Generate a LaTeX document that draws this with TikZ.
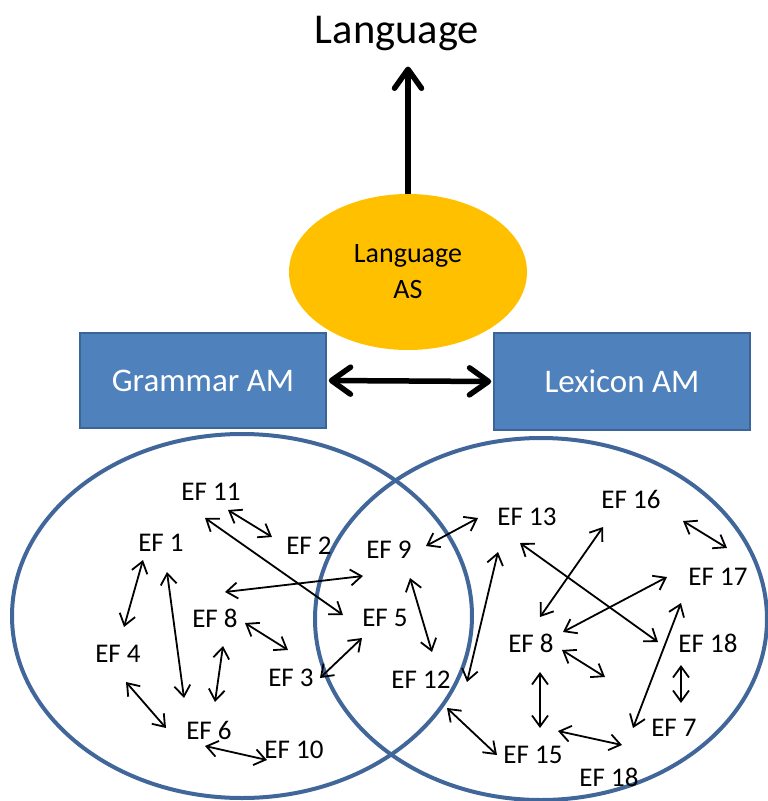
\documentclass[tikz,border=0pt]{standalone}
\usepackage{fontspec}
\setmainfont{Carlito}
\usetikzlibrary{arrows.meta,shapes.geometric}
\definecolor{boxblue}{HTML}{4F81BD}
\definecolor{boxedge}{HTML}{3B6598}
\definecolor{gold}{HTML}{FFC000}
\definecolor{ringblue}{HTML}{41679A}

\begin{document}
\begin{tikzpicture}[x=1pt,y=-1pt,
  ef/.style={font=\fontsize{27}{32}\selectfont, inner sep=0pt},
  link/.style={line width=1.8pt,
    {Straight Barb[length=11pt,width=16pt]}-{Straight Barb[length=11pt,width=16pt]}},
  bigarrow/.style={line width=5.5pt, -{Straight Barb[round,length=19pt,width=27pt]}},
  bigboth/.style={line width=5.5pt,
    {Straight Barb[round,length=19pt,width=27pt]}-{Straight Barb[round,length=19pt,width=27pt]}},
  module/.style={draw=boxedge, line width=1.5pt, fill=boxblue, text=white,
    font=\fontsize{33}{38}\selectfont, inner sep=0pt},
  ring/.style={draw=ringblue, line width=4pt, ellipse, inner sep=0pt}
]
\useasboundingbox (0,0) rectangle (768,801);

% top level
\node[font=\fontsize{42.5}{50}\selectfont, inner sep=0pt, anchor=base] (title) at (397,43) {Language};
\node[ellipse, fill=gold, minimum width=238pt, minimum height=156pt, inner sep=0pt,
      align=center, font=\fontsize{28}{36}\selectfont] (as) at (408,272) {Language\\AS};
\draw[bigarrow, shorten >=16pt] (as.north) -- (as.north |- title.south);

% modules
\node[module, minimum width=246pt, minimum height=95pt] (grammar) at (203,380.5) {Grammar AM};
\node[module, minimum width=256pt, minimum height=97pt] (lexicon) at (622,381.5) {Lexicon AM};
\draw[bigboth, shorten <=2pt, shorten >=2pt] (grammar.east) -- (lexicon.west);

% the two overlapping sets
\node[ring, minimum width=460pt, minimum height=364pt] (gset) at (242,616) {};
\node[ring, minimum width=452pt, minimum height=362pt] (lset) at (541,619) {};

% elements of the grammar set
\node[ef] (ef11) at (211,492) {EF 11};
\node[ef] (ef1)  at (161,543) {EF 1};
\node[ef] (ef2)  at (309,546) {EF 2};
\node[ef] (ef8l) at (215,618) {EF 8};
\node[ef] (ef4)  at (118,654) {EF 4};
\node[ef] (ef3)  at (291,678) {EF 3};
\node[ef] (ef6)  at (209,730) {EF 6};
\node[ef] (ef10) at (294,750) {EF 10};

% elements in the overlap
\node[ef] (ef9)  at (389,550) {EF 9};
\node[ef] (ef5)  at (385,618) {EF 5};
\node[ef] (ef12) at (421,680) {EF 12};

% elements of the lexicon set
\node[ef] (ef13) at (527,517) {EF 13};
\node[ef] (ef16) at (631,499) {EF 16};
\node[ef] (ef17) at (718,577) {EF 17};
\node[ef] (ef8r) at (531,643) {EF 8};
\node[ef] (ef18a) at (708,643) {EF 18};
\node[ef] (ef7)  at (674,728) {EF 7};
\node[ef] (ef15) at (533,755) {EF 15};
\node[ef] (ef18b) at (609,777) {EF 18};
\coordinate (loose) at (605,677);

% links in the grammar set
\draw[link] ([shift={(17,18)}]ef11.center) -- ([shift={(-37,-9)}]ef2.center);
\draw[link] ([shift={(-6,26)}]ef11.center) -- ([shift={(-42,-3)}]ef5.center);
\draw[link] ([shift={(-18,17)}]ef1.center) -- ([shift={(6,-27)}]ef4.center);
\draw[link] ([shift={(6,29)}]ef1.center) -- ([shift={(-25,-32)}]ef6.center);
\draw[link] ([shift={(10,-26)}]ef8l.center) -- ([shift={(-26,26)}]ef9.center);
\draw[link] ([shift={(30,5)}]ef8l.center) -- ([shift={(-3,-28)}]ef3.center);
\draw[link] ([shift={(8,28)}]ef8l.center) -- ([shift={(6,-28)}]ef6.center);
\draw[link] ([shift={(29,0)}]ef3.center) -- ([shift={(-23,20)}]ef5.center);
\draw[link] ([shift={(8,28)}]ef4.center) -- ([shift={(-43,-2)}]ef6.center);
\draw[link] ([shift={(-4,16)}]ef6.center) -- ([shift={(-27,10)}]ef10.center);

% links in the lexicon set
\draw[link] ([shift={(37,-4)}]ef9.center) -- ([shift={(-49,1)}]ef13.center);
\draw[link] ([shift={(21,28)}]ef9.center) -- ([shift={(11,-28)}]ef12.center);
\draw[link] ([shift={(-29,35)}]ef13.center) -- ([shift={(46,2)}]ef12.center);
\draw[link] ([shift={(-7,26)}]ef13.center) -- ([shift={(-50,-1)}]ef18a.center);
\draw[link] ([shift={(-28,28)}]ef16.center) -- ([shift={(9,-26)}]ef8r.center);
\draw[link] ([shift={(52,22)}]ef16.center) -- ([shift={(9,-29)}]ef17.center);
\draw[link] ([shift={(-51,0)}]ef17.center) -- ([shift={(32,-11)}]ef8r.center);
\draw[link] ([shift={(31,7)}]ef8r.center) -- (loose);
\draw[link] ([shift={(9,29)}]ef8r.center) -- ([shift={(7,-27)}]ef15.center);
\draw[link] ([shift={(-37,26)}]ef17.center) -- ([shift={(-41,0)}]ef7.center);
\draw[link] ([shift={(-27,22)}]ef18a.center) -- ([shift={(7,-25)}]ef7.center);
\draw[link] ([shift={(26,28)}]ef12.center) -- ([shift={(-36,0)}]ef15.center);
\draw[link] ([shift={(25,-24)}]ef15.center) -- ([shift={(13,-32)}]ef18b.center);
\end{tikzpicture}
\end{document}
